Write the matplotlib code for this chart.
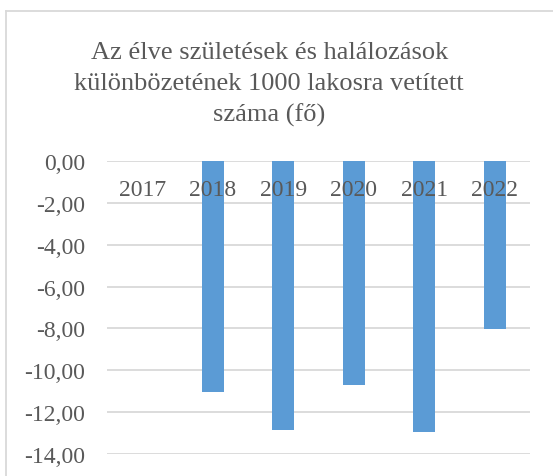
import matplotlib
matplotlib.use("Agg")
import matplotlib.pyplot as plt
from matplotlib.lines import Line2D
from matplotlib.ticker import FuncFormatter

# adatok
evek = ["2017", "2018", "2019", "2020", "2021", "2022"]
ertekek = [0.0, -11.05, -12.88, -10.73, -12.97, -8.04]
cim = "Az élve születések és halálozások\nkülönbözetének 1000 lakosra vetített\nszáma (fő)"

szurke = "#595959"
racs = "#d9d9d9"
kek = "#5b9bd5"

plt.rcParams["font.family"] = ["Liberation Serif", "DejaVu Serif"]

fig = plt.figure(figsize=(5.53, 4.77), dpi=100)
ax = fig.add_axes([0.1935, 0.0467, 0.765, 0.613])

x = range(len(evek))
ax.bar(x, ertekek, width=0.31, color=kek, zorder=3)

ax.set_xlim(-0.5, len(evek) - 0.5)
ax.set_ylim(-14, 0)
ax.set_yticks(range(-14, 1, 2))
ax.yaxis.set_major_formatter(FuncFormatter(lambda v, p: f"{v:.2f}".replace(".", ",")))
ax.tick_params(axis="y", length=0, labelsize=17, labelcolor=szurke, pad=16)
ax.set_xticks([])
ax.grid(axis="y", color=racs, linewidth=1.3, zorder=0)
for s in ax.spines.values():
    s.set_visible(False)

# évszámok a 0 tengely alatt
for i, ev in enumerate(evek):
    ax.text(i, -1.33, ev, ha="center", va="center", fontsize=17, color=szurke)

fig.text(0.487, 0.822, cim, ha="center", va="center", fontsize=19,
         color=szurke, linespacing=1.5)

# diagram keret
fig.add_artist(Line2D([6 / 553, 6 / 553], [0, 1 - 12 / 477], color=racs, lw=1.3))
fig.add_artist(Line2D([6 / 553, 1], [1 - 12 / 477, 1 - 12 / 477], color=racs, lw=1.3))

fig.savefig("out.png", dpi=100)
